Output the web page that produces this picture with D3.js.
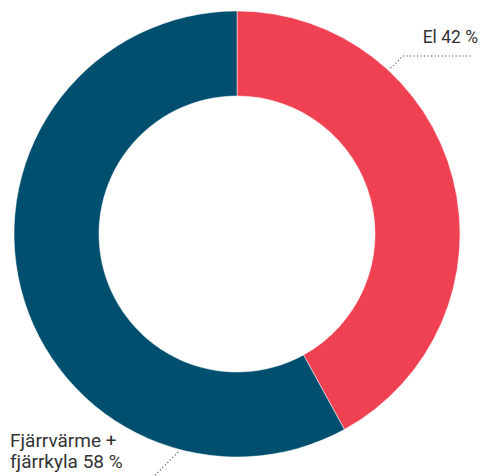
<!DOCTYPE html>
<html><head><meta charset="utf-8">
<script src="https://cdn.jsdelivr.net/npm/d3@7"></script>
<style>html,body{margin:0;padding:0;background:#fff;overflow:hidden}svg{display:block}</style>
</head><body>
<svg id="c" width="481" height="476"></svg>
<script>
const categories = ["El", "Fjärrvärme + fjärrkyla"];
const values = [42, 58];
const labelLines = [["El 42 %"], ["Fjärrvärme +", "fjärrkyla 58 %"]];
const colors = ["#ef4152", "#004f6f"];

const W = 481, H = 476, cx = 237, cy = 234, rOuter = 223, rInner = 138;
const svg = d3.select("#c");
const g = svg.append("g").attr("transform", `translate(${cx},${cy})`);
const pie = d3.pie().sort(null).value(d => d)(values);
const arc = d3.arc().innerRadius(rInner).outerRadius(rOuter);
const color = d3.scaleOrdinal().domain(categories).range(colors);

g.selectAll("path.slice").data(pie).join("path")
  .attr("class", "slice")
  .attr("d", arc)
  .attr("fill", (d, i) => color(categories[i]))
  .attr("stroke", "#fff").attr("stroke-width", 0.5);

// leader line angles (degrees clockwise from top) and layout
const leaders = [
  {ang: 42.8, r0: 226, elbow: [403 - cx, 56 - cy], end: [473 - cx, 56 - cy]},
  {ang: 195.1, r0: 226, elbow: [148 - cx, 482 - cy], end: [100 - cx, 482 - cy]}
];
leaders.forEach((l, i) => {
  const a = l.ang * Math.PI / 180;
  const p0 = [l.r0 * Math.sin(a), -l.r0 * Math.cos(a)];
  g.append("polyline")
    .attr("points", [p0, l.elbow, l.end].map(p => p.join(",")).join(" "))
    .attr("fill", "none").attr("stroke", "#333").attr("stroke-width", 1.1)
    .attr("stroke-dasharray", "1,2.5");
});

svg.append("text").attr("x", 478).attr("y", 43).attr("text-anchor", "end")
  .attr("font-family", "Roboto").attr("font-size", 17.5).attr("fill", "#333")
  .text(labelLines[0][0]);
labelLines[1].forEach((s, i) => svg.append("text")
  .attr("x", 10).attr("y", 447 + i * 21)
  .attr("font-family", "Roboto").attr("font-size", 19).attr("fill", "#333")
  .text(s));
</script>
</body></html>
